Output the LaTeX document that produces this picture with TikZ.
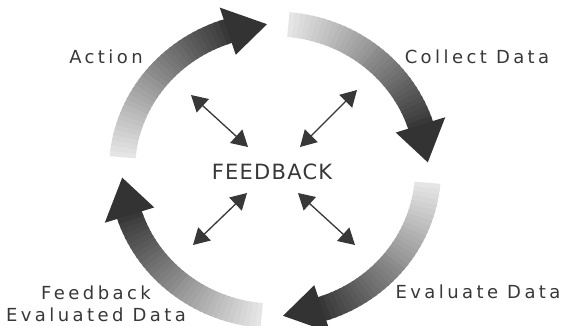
\documentclass[tikz,border=0pt]{standalone}
\usepackage{fontspec}
\setmainfont{DejaVu Sans}[LetterSpace=19]
\newfontfamily\fbfont{DejaVu Sans}[LetterSpace=6]
\usetikzlibrary{arrows.meta}
\tikzset{
  lbl/.style={font=\fontsize{18}{22}\selectfont, text=black!78, inner sep=0pt},
  fbarrow/.style={draw=black!78, line width=1.3pt, {Triangle[width=18pt,length=16pt]}-{Triangle[width=18pt,length=16pt]}, fill=black!78},
  headfill/.style={fill=black!80}
}
\begin{document}
\begin{tikzpicture}[x=1pt,y=-1pt]
\useasboundingbox (0,0) rectangle (564,326);
\def\cx{275}\def\cy{170}\def\rx{153}\def\ry{146}
% curved gradient arrows of the cycle
\foreach \p in {93,3,-87,-177}{
  \foreach \i in {0,...,33}{
    \pgfmathsetmacro\aa{\p+82-67*\i/34}
    \pgfmathsetmacro\ab{\p+82-67*(\i+1)/34-0.6}
    \pgfmathtruncatemacro\sh{10+68*\i/33}
    \fill[black!\sh]
      ({\cx+\rx*1.085*cos(\aa)},{\cy-\ry*1.085*sin(\aa)}) --
      ({\cx+\rx*1.085*cos(\ab)},{\cy-\ry*1.085*sin(\ab)}) --
      ({\cx+\rx*0.915*cos(\ab)},{\cy-\ry*0.915*sin(\ab)}) --
      ({\cx+\rx*0.915*cos(\aa)},{\cy-\ry*0.915*sin(\aa)}) -- cycle;
  }
  \pgfmathsetmacro\hb{\p+15}
  \fill[headfill]
    ({\cx+\rx*1.17*cos(\hb)},{\cy-\ry*1.17*sin(\hb)}) --
    ({\cx+\rx*cos(\p)},{\cy-\ry*sin(\p)}) --
    ({\cx+\rx*0.83*cos(\hb)},{\cy-\ry*0.83*sin(\hb)}) -- cycle;
}
% labels
\node[lbl] (action) at (106,57) {Action};
\node[lbl] (collect) at (477,57) {Collect Data};
\node[lbl, font=\fontsize{21}{24}\fbfont] (fb) at (272,172) {FEEDBACK};
\node[lbl] (evaluate) at (478,292) {Evaluate Data};
\node[lbl, align=center] (feedback) at (96,304) {Feedback\\Evaluated Data};
% feedback arrows
\coordinate (tl1) at (191,95);  \coordinate (tl2) at (248,147);
\coordinate (tr1) at (357,90);  \coordinate (tr2) at (300,147);
\coordinate (bl1) at (247,193); \coordinate (bl2) at (193,245);
\coordinate (br1) at (298,193); \coordinate (br2) at (355,245);
\draw[fbarrow] (tl1) -- (tl2);
\draw[fbarrow] (tr2) -- (tr1);
\draw[fbarrow] (bl1) -- (bl2);
\draw[fbarrow] (br1) -- (br2);
\end{tikzpicture}
\end{document}
